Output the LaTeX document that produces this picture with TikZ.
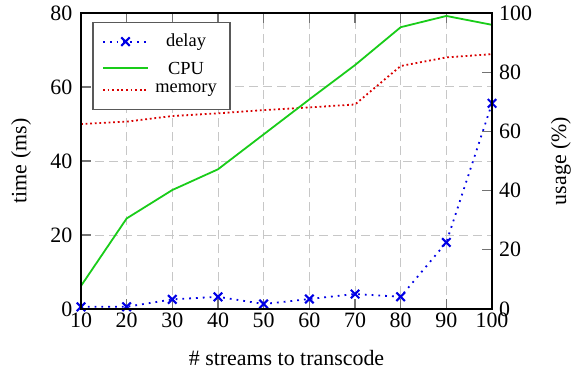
\documentclass[tikz,border=0pt]{standalone}
\usepackage{fontspec}
\setmainfont{Liberation Serif}
\definecolor{cpugreen}{rgb}{0.1,0.8,0.1}
\definecolor{memred}{rgb}{0.85,0,0}
\definecolor{delayblue}{rgb}{0,0,0.9}
\tikzset{
  gridline/.style={draw=black!22, line width=1bp, dash pattern=on 9bp off 5bp},
  tickline/.style={draw=black!55, line width=1.1bp},
  frameline/.style={draw=black, line width=1.1bp},
  delayline/.style={draw=delayblue, line width=1.8bp, dash pattern=on 1.8bp off 5bp},
  cpuline/.style={draw=cpugreen, line width=1.8bp},
  memline/.style={draw=memred, line width=1.8bp, dash pattern=on 1.8bp off 2.8bp},
  xmark/.style={mark=x, mark size=6bp, mark options={solid, line width=2.1bp, draw=delayblue}},
  ticklabel/.style={inner sep=0pt, font=\fontsize{22}{26}\selectfont},
  axlabel/.style={inner sep=0pt, font=\fontsize{22}{26}\selectfont},
  legtext/.style={inner sep=0pt, font=\fontsize{18.5}{21}\selectfont},
  legbox/.style={draw=black!65, fill=white, line width=1.1bp}
}
\begin{document}
\begin{tikzpicture}[x=1bp,y=1bp]
\useasboundingbox (0,0) rectangle (573,373);
% ---- ms scope
\begin{scope}[shift={(35.333,64)}, x=4.5667bp, y=3.7bp]
  \foreach \v in {20,30,...,90} \draw[gridline] (\v,0) -- (\v,80);
  \foreach \v in {20,40,60} \draw[gridline] (10,\v) -- (100,\v);
  \foreach \v in {20,30,...,90} {
    \draw[tickline] (\v,0) -- ++(0,10bp);
    \draw[tickline] (\v,80) -- ++(0,-10bp);
  }
  \foreach \v in {20,40,60} \draw[tickline] (10,\v) -- ++(10bp,0);
  \foreach \v in {10,20,...,100} \node[ticklabel, anchor=north] at (\v,-3.5bp) {\v};
  \foreach \v in {0,20,...,80} \node[ticklabel, anchor=east] at (10,\v) [xshift=-8.5bp] {\v};
\end{scope}
% ---- percent scope
\begin{scope}[shift={(35.333,64)}, x=4.5667bp, y=2.96bp]
  \foreach \v in {20,40,60,80} \draw[tickline] (100,\v) -- ++(-10bp,0);
  \foreach \v in {0,20,...,100} \node[ticklabel, anchor=west] at (100,\v) [xshift=7bp] {\v};
  \draw[memline] (10,62.5) -- (20,63.3) -- (30,65.2) -- (40,66.1) -- (50,67.2) -- (60,68.1) -- (70,69.1) -- (80,82.1) -- (90,85) -- (100,86.1);
  \draw[cpuline] (10,7.8) -- (20,30.6) -- (30,40.2) -- (40,47.2) -- (50,59) -- (60,70.8) -- (70,82.4) -- (80,95.2) -- (90,99) -- (100,96);
\end{scope}
\begin{scope}[shift={(35.333,64)}, x=4.5667bp, y=3.7bp]
  \draw[delayline] plot[xmark] coordinates {(10,0.6) (20,0.6) (30,2.6) (40,3.3) (50,1.35) (60,2.7) (70,4.05) (80,3.3) (90,18.0) (100,55.6)};
\end{scope}
% frame
\draw[frameline] (81,64) rectangle (492,360);
% legend
\draw[legbox] (93,263.7) rectangle (230,350.3);
\draw[delayline] (103,331.3) -- (148,331.3);
\draw[delayblue] plot[xmark] coordinates {(125.5,331.3)};
\draw[cpuline] (103,304.7) -- (148,304.7);
\draw[memline] (103,283) -- (148,283);
\node[legtext] (ld) at (186,331.3) {delay};
\node[legtext] (lc) at (186,304.7) {CPU};
\node[legtext] (lm) at (186,283) {memory};
% axis labels
\node[axlabel, rotate=90] (yl) at (21,212) {time (ms)};
\node[axlabel, rotate=90] (yr) at (561,212) {usage (\%)};
\node[axlabel, anchor=base] (xl) at (286.5,8) {\# streams to transcode};
\end{tikzpicture}
\end{document}
